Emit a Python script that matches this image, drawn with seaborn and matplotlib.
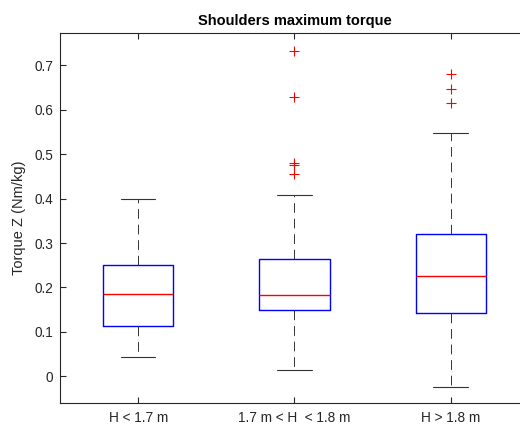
import matplotlib
matplotlib.use("Agg")
import matplotlib.pyplot as plt
import seaborn as sns

categories = ["H < 1.7 m", "1.7 m < H  < 1.8 m", "H > 1.8 m"]
q1 = [0.113, 0.1485, 0.1425]
median = [0.186, 0.184, 0.225]
q3 = [0.2505, 0.265, 0.3196]
whisker_low = [0.0434, 0.014, -0.024]
whisker_high = [0.398, 0.408, 0.5476]
outliers = [
    [],
    [0.733, 0.629, 0.480, 0.476, 0.4546],
    [0.680, 0.6466, 0.6144],
]
yticks = [0, 0.1, 0.2, 0.3, 0.4, 0.5, 0.6, 0.7]
ytick_labels = ["0", "0.1", "0.2", "0.3", "0.4", "0.5", "0.6", "0.7"]

sns.set_theme(style="white")
plt.rcParams["font.family"] = ["Liberation Sans", "DejaVu Sans"]

fig = plt.figure(figsize=(5.2, 4.25), dpi=100)
ax = fig.add_axes([60 / 520, 1 - 403 / 425, (528.8 - 60) / 520, (403 - 33) / 425])

stats = []
for i, name in enumerate(categories):
    stats.append(dict(label=name, q1=q1[i], med=median[i], q3=q3[i],
                      whislo=whisker_low[i], whishi=whisker_high[i], fliers=outliers[i]))

positions = list(range(len(categories)))
ax.bxp(stats, positions=positions, widths=0.45, showfliers=True,
       boxprops=dict(color="#0000ff", linewidth=1.0),
       medianprops=dict(color="#ff0000", linewidth=1.0),
       whiskerprops=dict(color="#333333", linewidth=0.7, linestyle=(0, (10, 6))),
       capprops=dict(color="#333333", linewidth=0.8),
       flierprops=dict(marker="+", markeredgecolor="#ff0000", markersize=7,
                       markeredgewidth=0.8, linestyle="none"),
       capwidths=0.22)

ax.set_xlim(-0.5, 2.5)
ax.set_ylim(-0.06, 0.7727)
ax.set_yticks(yticks)
ax.set_yticklabels(ytick_labels)
ax.set_xticks(positions)
ax.set_xticklabels(categories)

for s in ax.spines.values():
    s.set_color("#262626")
    s.set_linewidth(0.8)
ax.spines["right"].set_visible(False)
ax.tick_params(axis="both", direction="in", length=4, width=0.8, color="#262626",
               labelsize=9.8, labelcolor="#262626", top=True, right=False,
               left=True, bottom=True)
ax.tick_params(axis="x", pad=6)
ax.tick_params(axis="y", pad=5)
ax.set_ylabel("Torque Z (Nm/kg)", fontsize=10.5, color="#262626", labelpad=6)
ax.set_title("Shoulders maximum torque", fontsize=10.5, fontweight="bold",
             color="#000000", pad=6)
ax.grid(False)

fig.savefig("out.png", dpi=100)
